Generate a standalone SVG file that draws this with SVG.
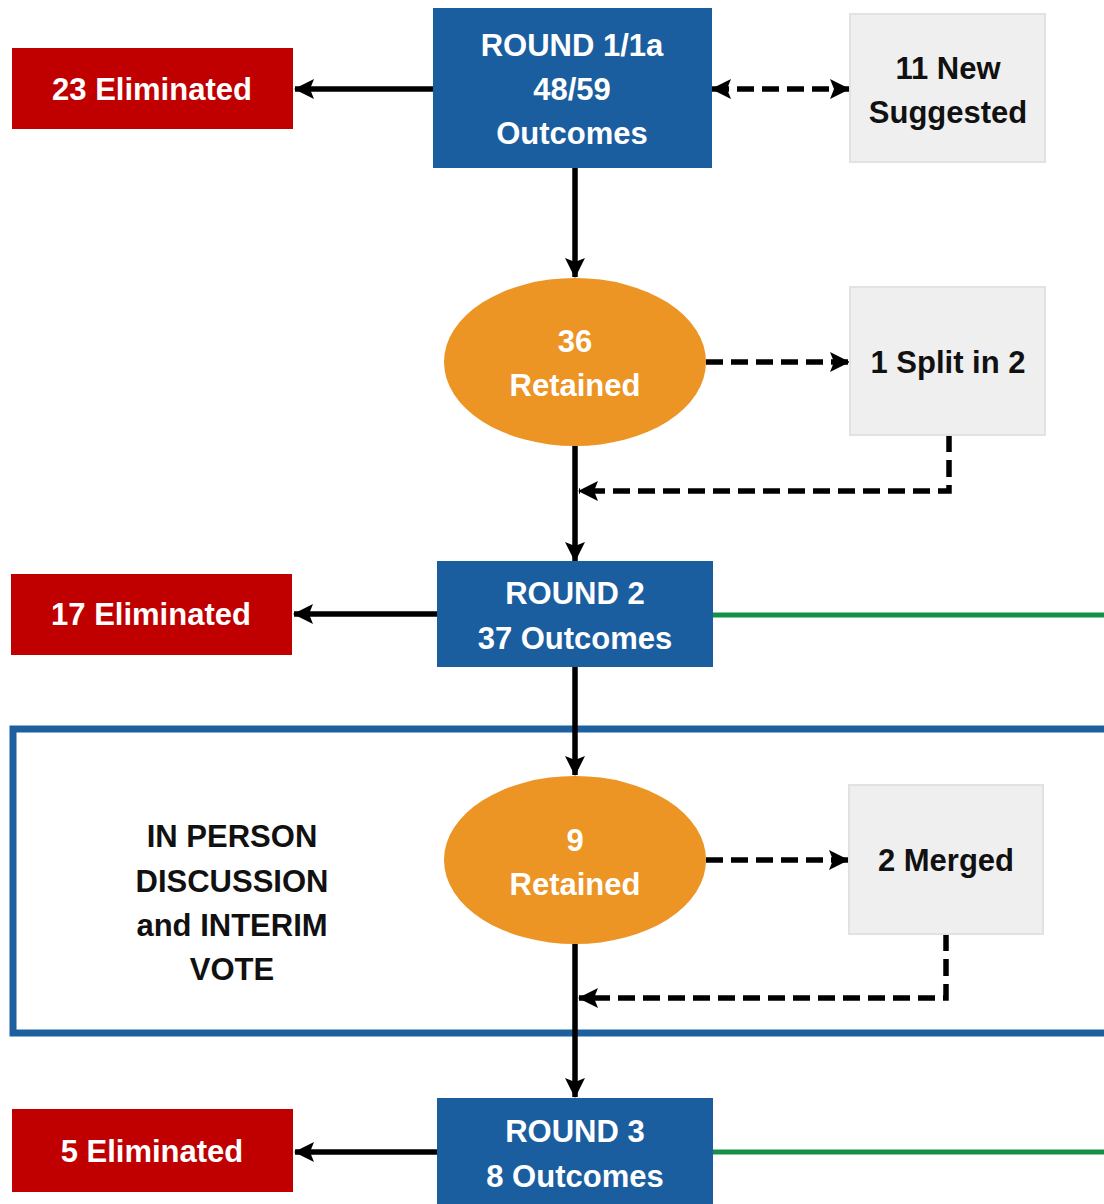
<svg xmlns="http://www.w3.org/2000/svg" width="1104" height="1204" viewBox="0 0 1104 1204">
<defs>
<style>
.t{font-family:"Liberation Sans",Arial,sans-serif;font-weight:bold;font-size:31px;text-anchor:middle}
.w{fill:#ffffff}
.k{fill:#111111}
.red{fill:#c00000}
.blue{fill:#1b5e9f}
.gray{fill:#efefef;stroke:#e2e2e2;stroke-width:2}
.orange{fill:#ec9424}
.solid{stroke:#000;stroke-width:5.5;fill:none}
.dash{stroke:#000;stroke-width:5.5;fill:none;stroke-dasharray:17 8}
.green{stroke:#129147;stroke-width:5;fill:none}
</style>
<marker id="ah" viewBox="0 0 20 20" refX="19" refY="10" markerWidth="20" markerHeight="20" markerUnits="userSpaceOnUse" orient="auto-start-reverse">
<path d="M0,0 L20,10 L0,20 L4,10 z" fill="#000"/>
</marker>
</defs>
<rect width="1104" height="1204" fill="#ffffff"/>

<g id="frame">
<rect x="13" y="729" width="1100" height="304" fill="none" stroke="#1e5fa0" stroke-width="7"/>
<text class="t k" x="232" y="847">IN PERSON</text>
<text class="t k" x="232" y="892">DISCUSSION</text>
<text class="t k" x="232" y="936">and INTERIM</text>
<text class="t k" x="232" y="980">VOTE</text>
</g>

<g id="connectors">
<path class="solid" d="M433,89 L295,89" marker-end="url(#ah)"/>
<path class="dash" d="M712,89 L849,89" marker-start="url(#ah)" marker-end="url(#ah)"/>
<path class="solid" d="M575,168 L575,277" marker-end="url(#ah)"/>
<path class="dash" d="M706,362 L849,362" marker-end="url(#ah)"/>
<path class="dash" d="M949,435 L949,491 L579,491" marker-end="url(#ah)"/>
<path class="solid" d="M575,446 L575,561" marker-end="url(#ah)"/>
<path class="solid" d="M437,614 L294,614" marker-end="url(#ah)"/>
<path class="green" d="M713,615 L1104,615"/>
<path class="solid" d="M575,667 L575,775" marker-end="url(#ah)"/>
<path class="dash" d="M706,860 L848,860" marker-end="url(#ah)"/>
<path class="dash" d="M946,934 L946,998 L579,998" marker-end="url(#ah)"/>
<path class="solid" d="M575,944 L575,1097" marker-end="url(#ah)"/>
<path class="solid" d="M437,1152 L295,1152" marker-end="url(#ah)"/>
<path class="green" d="M713,1152 L1104,1152"/>
</g>

<g id="elim1">
<rect class="red" x="12" y="48" width="281" height="81"/>
<text class="t w" x="152" y="100">23 Eliminated</text>
</g>
<g id="round1">
<rect class="blue" x="433" y="8" width="279" height="160"/>
<text class="t w" x="572" y="56">ROUND 1/1a</text>
<text class="t w" x="572" y="100">48/59</text>
<text class="t w" x="572" y="144">Outcomes</text>
</g>
<g id="new11">
<rect class="gray" x="850" y="14" width="195" height="148"/>
<text class="t k" x="948" y="79">11 New</text>
<text class="t k" x="948" y="123">Suggested</text>
</g>
<g id="retained36">
<ellipse class="orange" cx="575" cy="362" rx="131" ry="84"/>
<text class="t w" x="575" y="352">36</text>
<text class="t w" x="575" y="396">Retained</text>
</g>
<g id="split">
<rect class="gray" x="850" y="287" width="195" height="148"/>
<text class="t k" x="948" y="373">1 Split in 2</text>
</g>
<g id="elim2">
<rect class="red" x="11" y="574" width="281" height="81"/>
<text class="t w" x="151" y="625">17 Eliminated</text>
</g>
<g id="round2">
<rect class="blue" x="437" y="561" width="276" height="106"/>
<text class="t w" x="575" y="604">ROUND 2</text>
<text class="t w" x="575" y="649">37 Outcomes</text>
</g>
<g id="retained9">
<ellipse class="orange" cx="575" cy="860" rx="131" ry="84"/>
<text class="t w" x="575" y="851">9</text>
<text class="t w" x="575" y="895">Retained</text>
</g>
<g id="merged">
<rect class="gray" x="849" y="785" width="194" height="149"/>
<text class="t k" x="946" y="871">2 Merged</text>
</g>
<g id="elim3">
<rect class="red" x="12" y="1109" width="281" height="83"/>
<text class="t w" x="152" y="1162">5 Eliminated</text>
</g>
<g id="round3">
<rect class="blue" x="437" y="1098" width="276" height="110"/>
<text class="t w" x="575" y="1142">ROUND 3</text>
<text class="t w" x="575" y="1187">8 Outcomes</text>
</g>
</svg>
